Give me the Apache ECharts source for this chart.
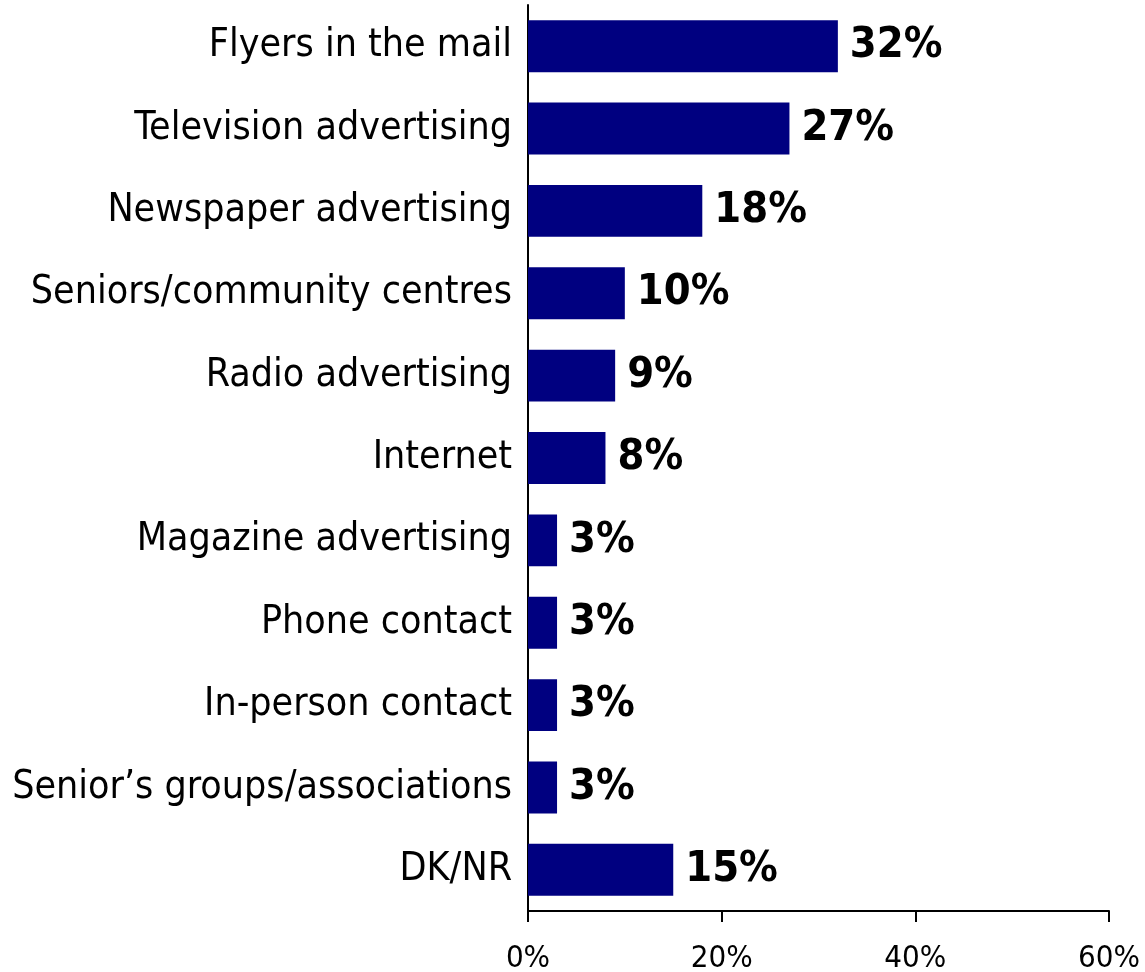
<!DOCTYPE html>
<html>
<head>
<meta charset="utf-8">
<script src="https://cdn.jsdelivr.net/npm/echarts@6/dist/echarts.min.js"></script>
<style>
html,body{margin:0;padding:0;background:#fff;}
#chart{width:1145px;height:972px;}
</style>
</head>
<body>
<div id="chart"></div>
<script>
const categories = [
  "Flyers in the mail",
  "Television advertising",
  "Newspaper advertising",
  "Seniors/community centres",
  "Radio advertising",
  "Internet",
  "Magazine advertising",
  "Phone contact",
  "In-person contact",
  "Senior\u2019s groups/associations",
  "DK/NR"
];
const values = [32, 27, 18, 10, 9, 8, 3, 3, 3, 3, 15];
const xTicks = [0, 20, 40, 60];

const FONT = '"Liberation Sans Narrow", "Arial Narrow", "DejaVu Sans Condensed", sans-serif';
const chart = echarts.init(document.getElementById('chart'), null, {renderer: 'canvas'});
chart.setOption({
  animation: false,
  grid: {left: 528, right: 36, top: 5, bottom: 61, containLabel: false, outerBoundsMode: 'none'},
  xAxis: {
    type: 'value',
    min: xTicks[0],
    max: xTicks[xTicks.length - 1],
    interval: 20,
    splitLine: {show: false},
    axisLine: {show: true, lineStyle: {color: '#000', width: 2}},
    axisTick: {show: true, length: 11, inside: false, lineStyle: {color: '#000', width: 2}},
    axisLabel: {
      formatter: v => v + '%',
      fontFamily: FONT, fontSize: 31, color: '#000', margin: 32
    }
  },
  yAxis: {
    type: 'category',
    data: categories,
    inverse: true,
    axisLine: {show: true, lineStyle: {color: '#000', width: 2}},
    axisTick: {show: false},
    axisLabel: {fontFamily: FONT, fontSize: 39, color: '#000', margin: 16}
  },
  series: [{
    type: 'bar',
    data: values,
    barCategoryGap: '37%',
    itemStyle: {color: '#000080'},
    label: {
      show: true,
      position: 'right',
      distance: 12,
      formatter: p => p.value + '%',
      fontFamily: FONT, fontSize: 43, fontWeight: 'bold', color: '#000'
    }
  }]
});
</script>
</body>
</html>
